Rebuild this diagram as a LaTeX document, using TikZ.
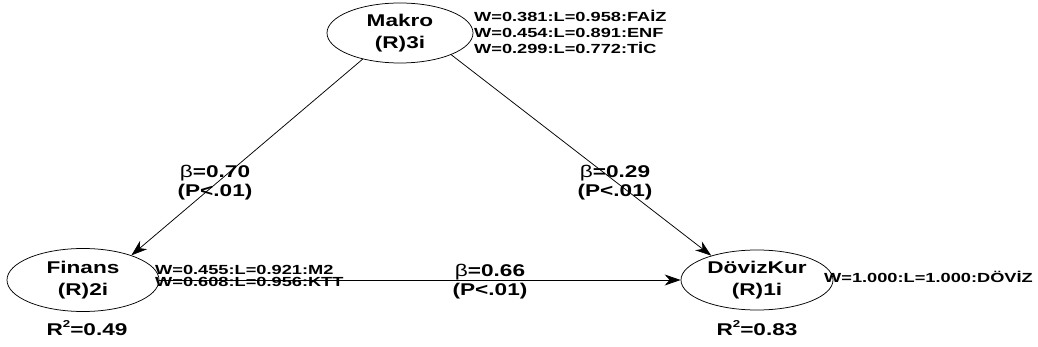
\documentclass[tikz,border=0pt]{standalone}
\usepackage{fontspec}
\setmainfont{Liberation Sans}
\newfontfamily\latfont{Liberation Sans}[FakeStretch=1.33]
\newfontfamily\indfont{Liberation Sans}[FakeStretch=1.38]
\usetikzlibrary{shapes.geometric,arrows.meta}
\begin{document}
\begin{tikzpicture}[x=1pt,y=-1pt,
  latent/.style={draw, ellipse, line width=0.75pt, inner sep=0pt, align=center,
    font=\latfont\bfseries\fontsize{17}{22}\selectfont},
  ind/.style={anchor=west, inner sep=0pt, align=left,
    font=\indfont\bfseries\fontsize{13.2}{16}\selectfont},
  coef/.style={align=center, inner sep=0pt,
    font=\latfont\bfseries\fontsize{17}{19}\selectfont},
  conn/.style={line width=0.75pt, -{Stealth[length=16pt,width=11pt,inset=5pt]}}
]
\fill[white] (0,0) rectangle (1038,347);
\useasboundingbox (0,0) rectangle (1038,347);

\node[latent, minimum width=146pt, minimum height=60pt] (makro) at (400,33) {Makro\\(R)3i};
\node[latent, minimum width=152pt, minimum height=63pt] (finans) at (83,280) {Finans\\(R)2i};
\node[latent, minimum width=152pt, minimum height=60pt] (doviz) at (757,280) {DövizKur\\(R)1i};

\node[ind] (mi) at (474,32) {W=0.381:L=0.958:FAİZ\\W=0.454:L=0.891:ENF\\W=0.299:L=0.772:TİC};
\node[ind, font=\indfont\bfseries\fontsize{13.2}{12.5}\selectfont] (fi) at (155,276) {W=0.455:L=0.921:M2\\W=0.608:L=0.956:KTT};
\node[ind] (di) at (824,277) {W=1.000:L=1.000:DÖVİZ};

\draw[conn] (makro.215) -- (finans.27);
\draw[conn] (makro.-23) -- (doviz.152);
\draw[conn] (finans.east) -- (doviz.west);

\node[coef] (c1) at (215,183) {{\mdseries β}=0.70\\(P<.01)};
\node[coef] (c2) at (615,183) {{\mdseries β}=0.29\\(P<.01)};
\node[coef] (c3) at (490,282) {{\mdseries β}=0.66\\(P<.01)};

\node[coef] (r1) at (87,328) {R\raisebox{0.45em}{\fontsize{10}{10}\selectfont 2}=0.49};
\node[coef] (r2) at (757,328) {R\raisebox{0.45em}{\fontsize{10}{10}\selectfont 2}=0.83};
\end{tikzpicture}
\end{document}
